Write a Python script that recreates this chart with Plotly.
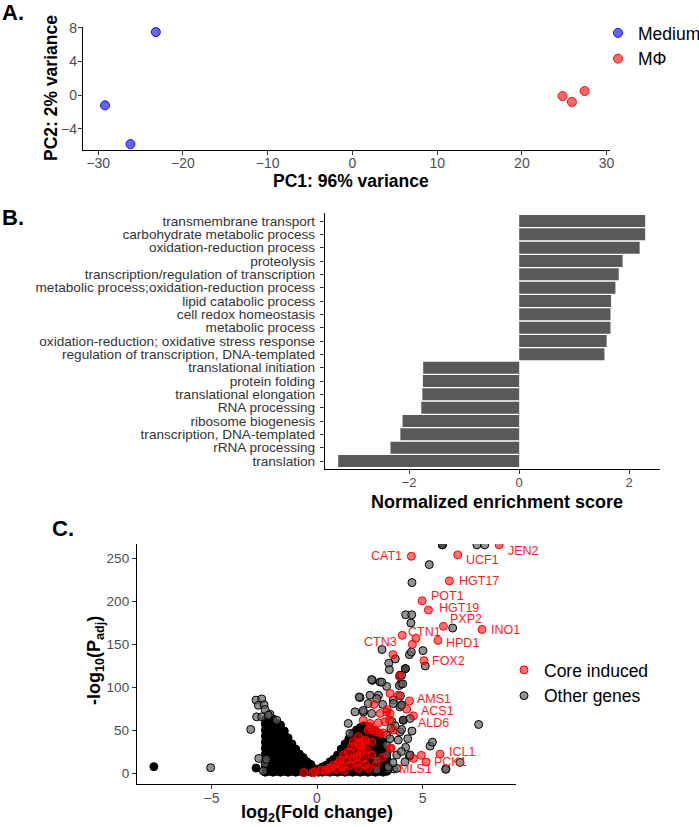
import plotly.graph_objects as go

FONT = "Liberation Sans, Arial, sans-serif"
W, H = 699, 827

# ---------------- Panel A data (PCA) ----------------
medium_pc1 = [-23.2, -29.2, -26.2]
medium_pc2 = [7.5, -1.2, -5.8]
mphi_pc1 = [24.8, 25.9, 27.4]
mphi_pc2 = [-0.1, -0.8, 0.5]
pca_xticks = [-30, -20, -10, 0, 10, 20, 30]
pca_yticks = [-4, 0, 4, 8]

# ---------------- Panel B data (GSEA) ----------------
go_terms = [
    "transmembrane transport",
    "carbohydrate metabolic process",
    "oxidation-reduction process",
    "proteolysis",
    "transcription/regulation of transcription",
    "metabolic process;oxidation-reduction process",
    "lipid catabolic process",
    "cell redox homeostasis",
    "metabolic process",
    "oxidation-reduction; oxidative stress response",
    "regulation of transcription, DNA-templated",
    "translational initiation",
    "protein folding",
    "translational elongation",
    "RNA processing",
    "ribosome biogenesis",
    "transcription, DNA-templated",
    "rRNA processing",
    "translation",
]
nes = [2.29, 2.29, 2.19, 1.88, 1.81, 1.75, 1.67, 1.66, 1.66, 1.59, 1.55,
       -1.745, -1.75, -1.76, -1.78, -2.12, -2.16, -2.34, -3.29]
nes_ticks = [-2, 0, 2]

# ---------------- Panel C data (volcano) ----------------
# dense core of non-induced genes (appears solid black)
mass_x = [
    -7.73, -2.89,
    -2.45, -2.45, -2.45, -2.45, -2.45, -2.45, -2.45, -2.45, -2.45, -2.45,
    -2.27, -2.27, -2.27, -2.27, -2.27, -2.27, -2.27, -2.27, -2.27, -2.27,
    -2.09, -2.09, -2.09, -2.09, -2.09, -2.09, -2.09, -2.09, -2.09, -2.09,
    -1.91, -1.91, -1.91, -1.91, -1.91, -1.91, -1.91, -1.91, -1.91,
    -1.73, -1.73, -1.73, -1.73, -1.73, -1.73, -1.73, -1.73, -1.73,
    -1.55, -1.55, -1.55, -1.55, -1.55, -1.55, -1.55, -1.55,
    -1.37, -1.37, -1.37, -1.37, -1.37, -1.37, -1.37,
    -1.19, -1.19, -1.19, -1.19, -1.19, -1.19,
    -1.01, -1.01, -1.01, -1.01, -1.01,
    -0.83, -0.83, -0.83, -0.83,
    -0.65, -0.65, -0.65, -0.65,
    -0.47, -0.47, -0.47,
    -0.29, -0.29, -0.29,
    -0.11, -0.11,
    0.07, 0.07,
    0.25, 0.25,
    0.43, 0.43,
    0.61, 0.61, 0.61,
    0.79, 0.79, 0.79,
    0.97, 0.97, 0.97, 0.97,
    1.15, 1.15, 1.15, 1.15, 1.15,
    1.33, 1.33, 1.33, 1.33, 1.33, 1.33,
    1.51, 1.51, 1.51, 1.51, 1.51, 1.51, 1.51,
    1.69, 1.69, 1.69, 1.69, 1.69, 1.69, 1.69, 1.69,
    1.87, 1.87, 1.87, 1.87, 1.87, 1.87, 1.87, 1.87,
    2.05, 2.05, 2.05, 2.05, 2.05, 2.05, 2.05, 2.05, 2.05,
    2.23, 2.23, 2.23, 2.23, 2.23, 2.23, 2.23, 2.23, 2.23,
    2.41, 2.41, 2.41, 2.41, 2.41, 2.41, 2.41, 2.41, 2.41,
    2.59, 2.59, 2.59, 2.59, 2.59, 2.59, 2.59, 2.59,
    2.77, 2.77, 2.77, 2.77, 2.77, 2.77, 2.77, 2.77,
    2.95, 2.95, 2.95, 2.95, 2.95, 2.95, 2.95,
    3.13, 3.13, 3.13, 3.13, 3.13, 3.13,
    3.31, 3.31, 3.31, 3.31,
    4.19, 4.09, 5.94,
]
mass_y = [
    7.4, 5.8,
    1, 8, 15, 22, 29, 36, 43, 50, 57, 62,
    2, 9, 16, 23, 30, 37, 44, 51, 58, 65,
    1, 8, 15, 22, 29, 36, 43, 50, 57, 63,
    2, 9, 16, 23, 30, 37, 44, 51, 58,
    1, 8, 15, 22, 29, 36, 43, 50, 56,
    2, 9, 16, 23, 30, 37, 44, 49,
    1, 8, 15, 22, 29, 36, 41,
    2, 9, 16, 23, 29, 34,
    1, 8, 15, 22, 28,
    2, 9, 16, 22,
    1, 8, 14, 18,
    2, 8, 13,
    1, 6, 10,
    1, 5,
    1, 4,
    1, 7,
    2, 9,
    1, 8, 13,
    2, 9, 16,
    1, 8, 15, 21,
    2, 9, 16, 23, 28,
    1, 8, 15, 22, 29, 34,
    2, 9, 16, 23, 30, 36, 40,
    1, 8, 15, 22, 29, 36, 42, 46,
    2, 9, 16, 23, 30, 37, 44, 50,
    1, 8, 15, 22, 29, 36, 43, 50, 53,
    2, 9, 16, 23, 30, 37, 44, 51, 55,
    1, 8, 15, 22, 29, 36, 43, 50, 54,
    2, 9, 16, 23, 30, 37, 44, 51,
    1, 8, 15, 22, 29, 36, 43, 49,
    2, 9, 16, 23, 30, 37, 44,
    1, 8, 15, 22, 29, 36,
    2, 9, 16, 24,
    121.7, 61.6, 266,
]
# scattered non-induced genes (semi-transparent grey)
other_x = [-5.04, -3.14, -2.89, -2.62, -2.78, -2.51, -2.46, -2.86, -2.62, -2.23,
           -2.31, -1.91, -2.76, -2.46, -2.54, -2.40,
           5.94, 7.58, 7.95, 5.32, 4.50, 4.20, 4.49, 4.45, 6.43, 3.08,
           3.71, 4.38, 4.47, 5.02, 5.13, 3.40, 3.43, 4.19, 3.93, 2.62,
           2.99, 3.30, 3.97, 2.04, 2.51, 2.91, 3.62, 3.11, 2.20, 4.01,
           7.66, 4.38, 6.11, 6.78, 5.36, 5.47, 4.50, 3.63, 3.38, 2.59,
           3.07, 3.90, 2.00, 2.83, 2.43, 3.62, 3.93, 1.80, 2.19, 2.59,
           4.09, 4.41, 1.48, 1.56, 3.30, 3.93, 3.30, 3.85, 3.30, 3.78,
           2.83, 3.38, 3.78, 4.17, 2.83, 4.01, 4.06, 4.01, 4.01, 4.41,
           6.10, 3.55, 3.70, 4.20, 4.00, 3.60, 4.30, 3.50, 3.45, 3.95]
other_y = [6.2, 50.8, 85, 86.4, 79, 79.6, 74, 65.5, 65.5, 68.6,
           67.4, 61.6, 17, 11, 2.3, 16,
           266, 266, 266, 243, 222, 184.5, 184.5, 175, 169, 144,
           133, 138, 141, 142.7, 124.8, 128, 120.5, 121.7, 114, 108,
           106, 101, 104, 88, 90.7, 90.7, 85, 80, 71, 79.6,
           56.6, 19.8, 5, 12.4, 31.4, 36, 49, 4.7, 4.7, 109,
           106, 102, 88.7, 86.8, 81, 81, 77, 71.3, 73, 69.4,
           61.6, 63.6, 57.8, 46, 44, 48, 32.6, 38.4, 21, 21,
           15, 7.3, 5.4, 13, 3.5, 114, 104, 79, 50.8, 21,
           4.3, 60, 55, 30, 25, 12, 40, 52, 40, 90]
# core induced genes
core_x = [4.47, 6.67, 8.63, 6.27, 4.98, 5.28, 5.99, 7.82, 4.69, 4.04,
          5.73, 5.07, 4.38, 4.25, 4.57, 5.83, 5.17, 4.57,
          4.52, 3.60, 3.90, 3.46, 3.85, 2.70, 3.33, 2.99, 3.46, 2.19,
          2.91, 3.22, 2.51, 2.67, 2.99, 3.62, 1.96, 1.72, 2.19, 3.46,
          2.43, 1.96, 1.25, 1.48, 1.09, 1.41, 1.72, 0.77, 1.17, 1.56,
          0.54, 0.22, -0.09, 1.88, 2.04, 1.64, 2.35, 2.59, 2.19, 1.88,
          2.51, 3.30, 3.43, 2.83, 3.14, 2.43, 2.27, 2.59, 1.96, 2.12,
          1.88, -0.62, -0.20, 4.94, 3.51, 0.40, 0.90, 1.30, 2.80, 3.10,
          2.30, 1.00, 0.65]
core_y = [252.7, 254.3, 266, 224, 200.8, 190, 171, 167.4, 157, 160.5,
          154.6, 131, 84, 74.4, 66.6, 22, 12.8, 17,
          150, 138, 112.8, 92.7, 90.7, 80, 74, 69.4, 69.4, 61.6,
          58.5, 59.7, 53.9, 50, 46, 50, 42.2, 36.4, 36.4, 28.7,
          5.4, 5.4, 21, 24.8, 15, 15, 17, 9.3, 7.3, 9.3,
          5.4, 3.5, 1.5, 24.8, 32.6, 30.6, 26.7, 21, 17, 11.3,
          57.8, 71, 61.6, 48, 46.8, 50, 38.4, 36.4, 34.5, 26.7,
          19, 0.4, 0.4, 20.6, 29, 2, 4, 3, 10, 18,
          10, 11, 6]
# labelled genes: name, label anchor x, label y, anchor side
gene_names = ["CAT1", "UCF1", "JEN2", "HGT17", "POT1", "HGT19", "PXP2", "INO1",
              "CTN1", "CTN3", "HPD1", "FOX2", "AMS1", "ACS1", "ALD6", "ICL1",
              "PCK1", "MLS1"]
gene_lab_x = [4.12, 6.98, 8.96, 6.62, 5.29, 5.70, 6.21, 8.17,
              4.22, 3.89, 6.03, 5.36, 4.64, 4.85, 4.68, 6.18, 5.43, 3.78]
gene_lab_y = [252.7, 248.5, 258.5, 224, 205.8, 191.9, 179, 167,
              164.3, 152.7, 151.5, 130.2, 86, 72, 58.5, 24.8, 12.4, 4.3]
gene_lab_side = ["right", "left", "left", "left", "left", "left", "left", "left",
                 "left", "right", "left", "left", "left", "left", "left", "left",
                 "left", "left"]
volc_xticks = [-5, 0, 5]
volc_yticks = [0, 50, 100, 150, 200, 250]


def px_x(p):
    return p / W


def px_y(p):
    return 1 - p / H


fig = go.Figure()

# Panel A
fig.add_trace(go.Scatter(x=medium_pc1, y=medium_pc2, mode="markers", name="Medium",
                         xaxis="x", yaxis="y", legend="legend",
                         marker=dict(size=9, color="rgba(0,0,255,0.6)",
                                     line=dict(color="rgba(0,0,230,0.9)", width=1))))
fig.add_trace(go.Scatter(x=mphi_pc1, y=mphi_pc2, mode="markers", name="MΦ",
                         xaxis="x", yaxis="y", legend="legend",
                         marker=dict(size=9, color="rgba(255,0,0,0.6)",
                                     line=dict(color="rgba(230,0,0,0.9)", width=1))))

# Panel B
fig.add_trace(go.Bar(x=nes, y=go_terms, orientation="h", xaxis="x2", yaxis="y2",
                     marker=dict(color="#595959", line=dict(width=0)), width=0.9,
                     showlegend=False))

# Panel C
fig.add_trace(go.Scatter(x=mass_x, y=mass_y, mode="markers", xaxis="x3", yaxis="y3",
                         showlegend=False, hoverinfo="skip",
                         marker=dict(size=8, color="black", line=dict(color="black", width=1))))
fig.add_trace(go.Scatter(x=other_x, y=other_y, mode="markers", name="Other genes",
                         xaxis="x3", yaxis="y3", legend="legend2", legendrank=2,
                         marker=dict(size=8, color="rgba(100,100,100,0.7)",
                                     line=dict(color="black", width=1))))
fig.add_trace(go.Scatter(x=core_x, y=core_y, mode="markers", name="Core induced",
                         xaxis="x3", yaxis="y3", legend="legend2", legendrank=1,
                         marker=dict(size=8, color="rgba(255,0,0,0.55)",
                                     line=dict(color="red", width=1))))


def ax(size, color="#4d4d4d", standoff=0):
    return dict(showline=True, linecolor="black", linewidth=1.3, ticks="outside",
                ticklen=4, tickwidth=1, tickcolor="#333333", showgrid=False,
                zeroline=False, ticklabelstandoff=standoff,
                tickfont=dict(family=FONT, color=color, size=size))


fig.update_layout(
    width=W, height=H, margin=dict(l=0, r=0, t=0, b=0, autoexpand=False),
    plot_bgcolor="white", paper_bgcolor="white",
    font=dict(family=FONT, color="black"),
    xaxis=dict(domain=[px_x(83), px_x(610)], anchor="y", range=[-31.8, 30.4],
               tickvals=pca_xticks, **ax(14, standoff=-4)),
    yaxis=dict(domain=[px_y(150), px_y(27)], anchor="x", range=[-6.5, 8.1],
               tickvals=pca_yticks, **ax(14, standoff=-2)),
    xaxis2=dict(domain=[px_x(325), px_x(660)], anchor="y2", range=[-3.53, 2.56],
                tickvals=nes_ticks, **ax(13, standoff=-3)),
    yaxis2=dict(domain=[px_y(469), px_y(213)], anchor="x2", type="category",
                categoryorder="array", categoryarray=go_terms, range=[18.6, -0.6],
                tickmode="array", tickvals=go_terms, ticktext=go_terms,
                **ax(13.6, "#333333", standoff=2)),
    xaxis3=dict(domain=[px_x(137), px_x(516)], anchor="y3", range=[-8.53, 9.43],
                tickvals=volc_xticks, **ax(14, standoff=-3)),
    yaxis3=dict(domain=[px_y(784), px_y(544)], anchor="x3", range=[-12.8, 267],
                tickvals=volc_yticks, **ax(13.5)),
    legend=dict(x=px_x(598), y=px_y(15), xanchor="left", yanchor="top",
                font=dict(family=FONT, size=17.5, color="black"), bgcolor="rgba(0,0,0,0)",
                tracegroupgap=0, itemwidth=30),
    legend2=dict(x=px_x(504), y=px_y(652), xanchor="left", yanchor="top",
                 font=dict(family=FONT, size=17.5, color="black"), bgcolor="rgba(0,0,0,0)",
                 itemwidth=30),
    bargap=0.1,
)

ann = []
# panel letters
ann.append(dict(text="<b>A.</b>", x=px_x(0), y=px_y(12), xanchor="left", yanchor="middle",
                font=dict(size=22)))
ann.append(dict(text="<b>B.</b>", x=px_x(0), y=px_y(217), xanchor="left", yanchor="middle",
                font=dict(size=22)))
ann.append(dict(text="<b>C.</b>", x=px_x(50), y=px_y(528), xanchor="left", yanchor="middle",
                font=dict(size=22)))
# axis titles
ann.append(dict(text="<b>PC1: 96% variance</b>", x=px_x(351), y=px_y(181),
                xanchor="center", yanchor="middle", font=dict(size=17.5)))
ann.append(dict(text="<b>PC2: 2% variance</b>", x=px_x(51), y=px_y(88), textangle=-90,
                xanchor="center", yanchor="middle", font=dict(size=17.5)))
ann.append(dict(text="<b>Normalized enrichment score</b>", x=px_x(497), y=px_y(502),
                xanchor="center", yanchor="middle", font=dict(size=18)))
ann.append(dict(text="<b>log<sub>2</sub>(Fold change)</b>", x=px_x(317), y=px_y(813),
                xanchor="center", yanchor="middle", font=dict(size=18)))
ann.append(dict(text="<b>-log<sub>10</sub>(P<sub>adj</sub>)</b>", x=px_x(95), y=px_y(660),
                textangle=-90, xanchor="center", yanchor="middle", font=dict(size=18)))
for a in ann:
    a.update(xref="paper", yref="paper", showarrow=False)
    a["font"] = dict(family=FONT, color="black", size=a["font"]["size"])

for name, lx, ly, side in zip(gene_names, gene_lab_x, gene_lab_y, gene_lab_side):
    ann.append(dict(text=name, x=lx, y=ly, xref="x3", yref="y3", showarrow=False,
                    xanchor=side, yanchor="middle",
                    font=dict(family=FONT, color="#ff1a1a", size=12.5)))

fig.update_layout(annotations=ann)
fig.write_html("out.html", config={"displayModeBar": False},
               post_script="document.body.style.margin='0px';")
